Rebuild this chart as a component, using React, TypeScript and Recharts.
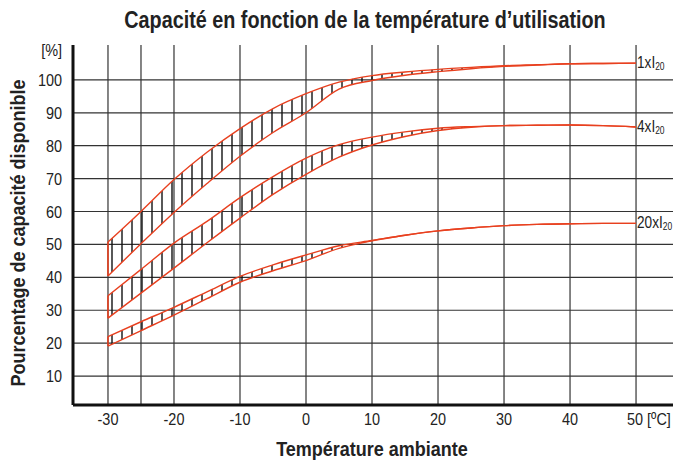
import {
  ComposedChart,
  Area,
  XAxis,
  YAxis,
  CartesianGrid,
  ReferenceLine,
  ReferenceDot,
} from "recharts";

const temps = [-30, -25, -20, -15, -10, -5, 0, 5, 10, 15, 20, 25, 30, 35, 40, 45, 50];

const band1Hi = [50.7, 60, 69.7, 78, 85.2, 91.3, 95.8, 99.3, 101.3, 102.4, 103.2, 103.8, 104.3, 104.6, 104.9, 105.0, 105.1];
const band1Lo = [40.4, 50.2, 59.7, 68.5, 76.8, 84, 90, 97.2, 99.8, 101.4, 102.5, 103.4, 104.1, 104.5, 104.9, 105.0, 105.1];

const band2Hi = [34.4, 42.4, 50.4, 57, 64.2, 70.6, 76.2, 80.3, 82.6, 84.2, 85.3, 85.8, 86.1, 86.2, 86.3, 86.1, 85.7];
const band2Lo = [27.6, 35.2, 42.8, 50.5, 58, 65.2, 71.3, 76.5, 80.2, 82.8, 84.6, 85.6, 86.1, 86.2, 86.3, 86.1, 85.7];

const band3Hi = [22, 26.5, 30.9, 35.6, 40.3, 43.8, 46.8, 49.6, 51.2, 52.8, 54.1, 55, 55.7, 56.1, 56.3, 56.4, 56.4];
const band3Lo = [19.1, 23.8, 28.5, 33.5, 38.5, 42, 45.1, 48.8, 51.1, 52.8, 54.1, 55, 55.7, 56.1, 56.3, 56.4, 56.4];

const bandNames = ["1xI", "4xI", "20xI"];
const xTicks = [-30, -20, -10, 0, 10, 20, 30, 40, 50];
const xGrid = [-30, -25, -20, -10, 0, 10, 20, 30, 40, 50];
const yTicks = [10, 20, 30, 40, 50, 60, 70, 80, 90, 100, 109];
const yGrid = [10, 20, 30, 40, 50, 60, 70, 80, 90, 100];

const data = temps.map((t, i) => ({
  t,
  b1: [band1Lo[i], band1Hi[i]],
  b2: [band2Lo[i], band2Hi[i]],
  b3: [band3Lo[i], band3Hi[i]],
}));

const bands = [
  { key: "b1", lo: band1Lo, hi: band1Hi },
  { key: "b2", lo: band2Lo, hi: band2Hi },
  { key: "b3", lo: band3Lo, hi: band3Hi },
];

const RED = "#e8401f";
const FONT = "'Liberation Sans Narrow', 'Liberation Sans', Arial, sans-serif";
const SQ = 0.85; // horizontal squeeze to mimic a condensed face

const XTick = (props: any) => {
  const { x, y, payload } = props;
  const is50 = payload.value === 50;
  return (
    <g transform={`translate(${is50 ? x - 9 : x},${y + 12}) scale(${SQ},1)`}>
      <text x={0} y={0} fontSize={17} fill="#222" fontFamily={FONT} textAnchor={is50 ? "start" : "middle"}>
        {is50 ? "50 [ºC]" : payload.value}
      </text>
    </g>
  );
};

const YTick = (props: any) => {
  const { x, y, payload } = props;
  return (
    <g transform={`translate(${x - 3},${y + 6}) scale(${SQ},1)`}>
      <text x={0} y={0} fontSize={17} fill="#222" fontFamily={FONT} textAnchor="end">
        {payload.value === 109 ? "[%]" : payload.value}
      </text>
    </g>
  );
};

const bandLabel = (name: string) => (props: any) => {
  const { viewBox } = props;
  return (
    <g transform={`translate(${viewBox.x + 1},${viewBox.y + 5}) scale(${SQ},1)`}>
      <text x={0} y={0} fontSize={16} fill="#222" fontFamily={FONT}>
        {name}
        <tspan fontSize={10} dy={2}>20</tspan>
      </text>
    </g>
  );
};

const YTitle = () => (
  <text
    transform="translate(25,233) rotate(-90) scale(0.9,1)"
    textAnchor="middle"
    fontFamily={FONT}
    fontWeight="bold"
    fontSize={20}
    fill="#222"
  >
    Pourcentage de capacité disponible
  </text>
);

const XTitle = () => (
  <text
    transform="translate(372,456) scale(0.9,1)"
    textAnchor="middle"
    fontFamily={FONT}
    fontWeight="bold"
    fontSize={20}
    fill="#222"
  >
    Température ambiante
  </text>
);

export default function App() {
  return (
    <div style={{ position: "absolute", left: 0, top: 0, width: 678, height: 461, background: "#fff" }}>
      <div
        style={{
          position: "absolute",
          left: 0,
          width: 730,
          top: 7,
          textAlign: "center",
          fontFamily: FONT,
          fontWeight: "bold",
          fontSize: 23,
          color: "#222",
          transform: "scaleX(0.86)",
          transformOrigin: "365px 0",
        }}
      >
        Capacité en fonction de la température d’utilisation
      </div>
      <ComposedChart width={678} height={461} data={data} margin={{ top: 45, right: 5, bottom: 0, left: 0 }}>
        <defs>
          <pattern id="hatch" patternUnits="userSpaceOnUse" width={10} height={10}>
            <line x1={2} y1={0} x2={2} y2={10} stroke="#111" strokeWidth={1.4} />
          </pattern>
        </defs>
        <CartesianGrid
          stroke="#333"
          strokeWidth={1.2}
          verticalValues={xGrid}
          horizontalValues={yGrid}
        />
        <XAxis
          dataKey="t"
          type="number"
          domain={[-35.3, 55.6]}
          ticks={xTicks}
          tick={<XTick />}
          tickLine={false}
          axisLine={{ stroke: "#111", strokeWidth: 3 }}
          height={56}
          label={<XTitle />}
        />
        <XAxis xAxisId="top" orientation="top" dataKey="t" type="number" domain={[-35.3, 55.6]} tick={false} tickLine={false} height={0} axisLine={{ stroke: "#111", strokeWidth: 2.5 }} />
        <YAxis
          type="number"
          domain={[1.2, 110.6]}
          ticks={yTicks}
          tick={<YTick />}
          tickLine={false}
          axisLine={{ stroke: "#111", strokeWidth: 3 }}
          width={73}
          label={<YTitle />}
        />
        <YAxis yAxisId="right" orientation="right" type="number" domain={[1.2, 110.6]} tick={false} tickLine={false} width={0} axisLine={{ stroke: "#111", strokeWidth: 2.5 }} />
        {bands.map((b) => (
          <Area
            key={b.key}
            dataKey={b.key}
            type="monotone"
            stroke={RED}
            strokeWidth={1.4}
            fill="url(#hatch)"
            fillOpacity={1}
            isAnimationActive={false}
            dot={false}
            activeDot={false}
          />
        ))}
        {bands.map((b) => (
          <ReferenceLine
            key={b.key + "edge"}
            segment={[
              { x: temps[0], y: b.lo[0] },
              { x: temps[0], y: b.hi[0] },
            ]}
            stroke={RED}
            strokeWidth={1.6}
          />
        ))}
        {bands.map((b, i) => (
          <ReferenceDot
            key={b.key + "lab"}
            x={temps[temps.length - 1]}
            y={b.hi[b.hi.length - 1]}
            r={0}
            stroke="none"
            fill="none"
            label={bandLabel(bandNames[i])}
          />
        ))}
      </ComposedChart>
    </div>
  );
}
